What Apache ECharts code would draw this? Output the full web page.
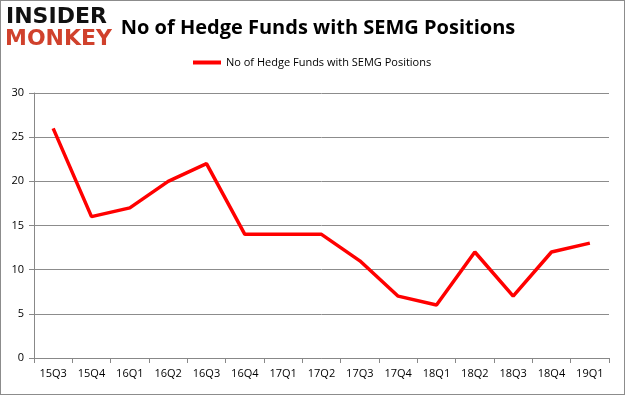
<!DOCTYPE html>
<html><head><meta charset="utf-8">
<script src="https://cdn.jsdelivr.net/npm/echarts@6/dist/echarts.min.js"></script>
<style>html,body{margin:0;padding:0;background:#fff}#c{width:625px;height:395px;box-sizing:border-box;border:1px solid #8c8c8c}</style>
</head><body><div id="c"></div>
<script>
const categories = ['15Q3','15Q4','16Q1','16Q2','16Q3','16Q4','17Q1','17Q2','17Q3','17Q4','18Q1','18Q2','18Q3','18Q4','19Q1'];
const hedgeFunds = [26,16,17,20,22,14,14,14,11,7,6,12,7,12,13];
const yTicks = [0,5,10,15,20,25,30];
const seriesName = 'No of Hedge Funds with SEMG Positions';

const chart = echarts.init(document.getElementById('c'), null, {renderer:'canvas'});
chart.setOption({
  animation:false,
  title:{text:'No of Hedge Funds with SEMG Positions', left:312, top:12, textAlign:'center',
    textStyle:{fontFamily:'Open Sans', fontSize:20, fontWeight:'bold', color:'#000'}},
  graphic:[
    {type:'text', left:5, top:5, style:{text:'INSIDER', font:'900 22px "DejaVu Sans"', fill:'#111'}},
    {type:'text', left:4, top:27, style:{text:'MONKEY', font:'900 22px "DejaVu Sans"', fill:'#d0412c'}}
  ],
  legend:{top:51, left:187, itemWidth:28, itemHeight:4, itemGap:4,
    textStyle:{fontFamily:'Open Sans', fontSize:11, color:'#000'},
    data:[{name:seriesName, icon:'rect'}]},
  grid:{left:33, right:15, top:92, bottom:36},
  xAxis:{type:'category', data:categories, boundaryGap:true,
    axisLine:{lineStyle:{color:'#888'}},
    axisTick:{show:true, interval:0, length:5, lineStyle:{color:'#888'}},
    axisLabel:{interval:0, margin:10, fontFamily:'Open Sans', fontSize:11, color:'#000'}},
  yAxis:{type:'value', min:0, max:30, interval:5,
    axisLine:{show:true, lineStyle:{color:'#888'}},
    axisTick:{show:true, length:5, lineStyle:{color:'#888'}},
    splitLine:{lineStyle:{color:'#8c8c8c'}},
    axisLabel:{margin:10, fontFamily:'Open Sans', fontSize:11, color:'#000'}},
  series:[{name:seriesName, type:'line', data:hedgeFunds, symbol:'none',
    lineStyle:{color:'#ff0000', width:3.5}, itemStyle:{color:'#ff0000'}}]
});
</script></body></html>
